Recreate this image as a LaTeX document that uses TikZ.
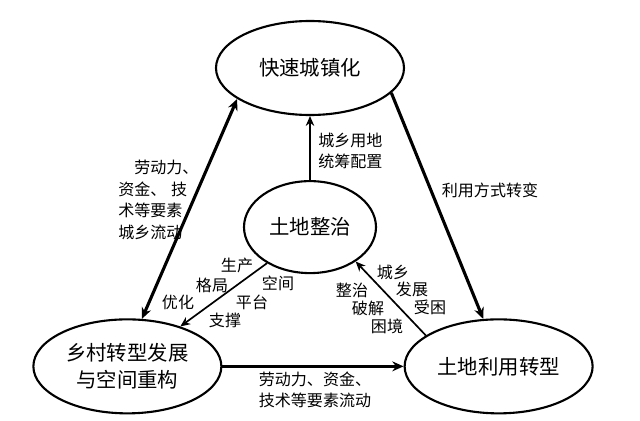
\documentclass[tikz,border=0pt]{standalone}
\usepackage{fontspec}
\setmainfont{Noto Sans CJK SC}
\usetikzlibrary{positioning, shapes.geometric, arrows.meta}

\begin{document}
\begin{tikzpicture}[
        ell/.style={draw, ellipse, line width=1.5pt, inner sep=1pt, align=center, minimum width=4.7cm, minimum height=2.35cm, font=\fontsize{14.5}{19}\selectfont},
        lbl/.style={align=left, inner sep=0pt, font=\fontsize{11.4}{15.3}\selectfont},
        arrow/.style={-{Stealth[length=7pt, width=6pt]}, line width=1.2pt},
        bigarrow/.style={-{Stealth[length=8pt, width=7pt]}, line width=2.2pt}
    ]
    \useasboundingbox (0,0) rectangle (16,10.5);

    \node[ell] (urban) at (7.75,8.8) {快速城镇化};
    \node[ell, minimum width=3.3cm, minimum height=2.3cm, below=1.6cm of urban] (landfix) {土地整治};
    \node[ell, below left=1.8cm and 1.7cm of landfix] (rural) {乡村转型发展\\与空间重构};
    \node[ell, below right=1.8cm and 1.85cm of landfix] (landuse) {土地利用转型};

    \draw[bigarrow, {Stealth[length=8pt, width=7pt]}-{Stealth[length=8pt, width=7pt]}] (urban.203) -- (rural.73);
    \draw[bigarrow] (urban.343) -- (landuse.108);
    \draw[bigarrow] (rural) -- (landuse);
    \draw[arrow] (landfix) -- (urban);
    \draw[arrow] (landfix.220) -- (rural.37);
    \draw[arrow] (landuse.157) -- (landfix.323);

    % labels
    \node[lbl, anchor=west] (flowleft) at (2.95,5.5) {\hspace{1em}劳动力、\\资金、\hspace{0.3em}技\\术等要素\\城乡流动};
    \node[lbl, anchor=west] (plan) at (7.95,6.73) {城乡用地\\统筹配置};
    \node[lbl] (usechange) at (12.25,5.75) {利用方式转变};
    \node[lbl, align=center] (flowbottom) at (7.875,0.75) {劳动力、资金、\\技术等要素流动};

    \node[lbl] (prod) at (5.925,3.875) {生产};
    \node[lbl] (pattern) at (5.3,3.375) {格局};
    \node[lbl] (optim) at (4.45,2.95) {优化};
    \node[lbl] (space) at (6.95,3.425) {空间};
    \node[lbl] (platform) at (6.3,2.95) {平台};
    \node[lbl] (support) at (5.625,2.5) {支撑};

    \node[lbl] (cityrural) at (9.825,3.7) {城乡};
    \node[lbl] (develop) at (10.3,3.275) {发展};
    \node[lbl] (trapped) at (10.75,2.825) {受困};
    \node[lbl] (govern) at (8.8,3.25) {整治};
    \node[lbl] (solve) at (9.2,2.8) {破解};
    \node[lbl] (dilemma) at (9.675,2.35) {困境};
\end{tikzpicture}
\end{document}
